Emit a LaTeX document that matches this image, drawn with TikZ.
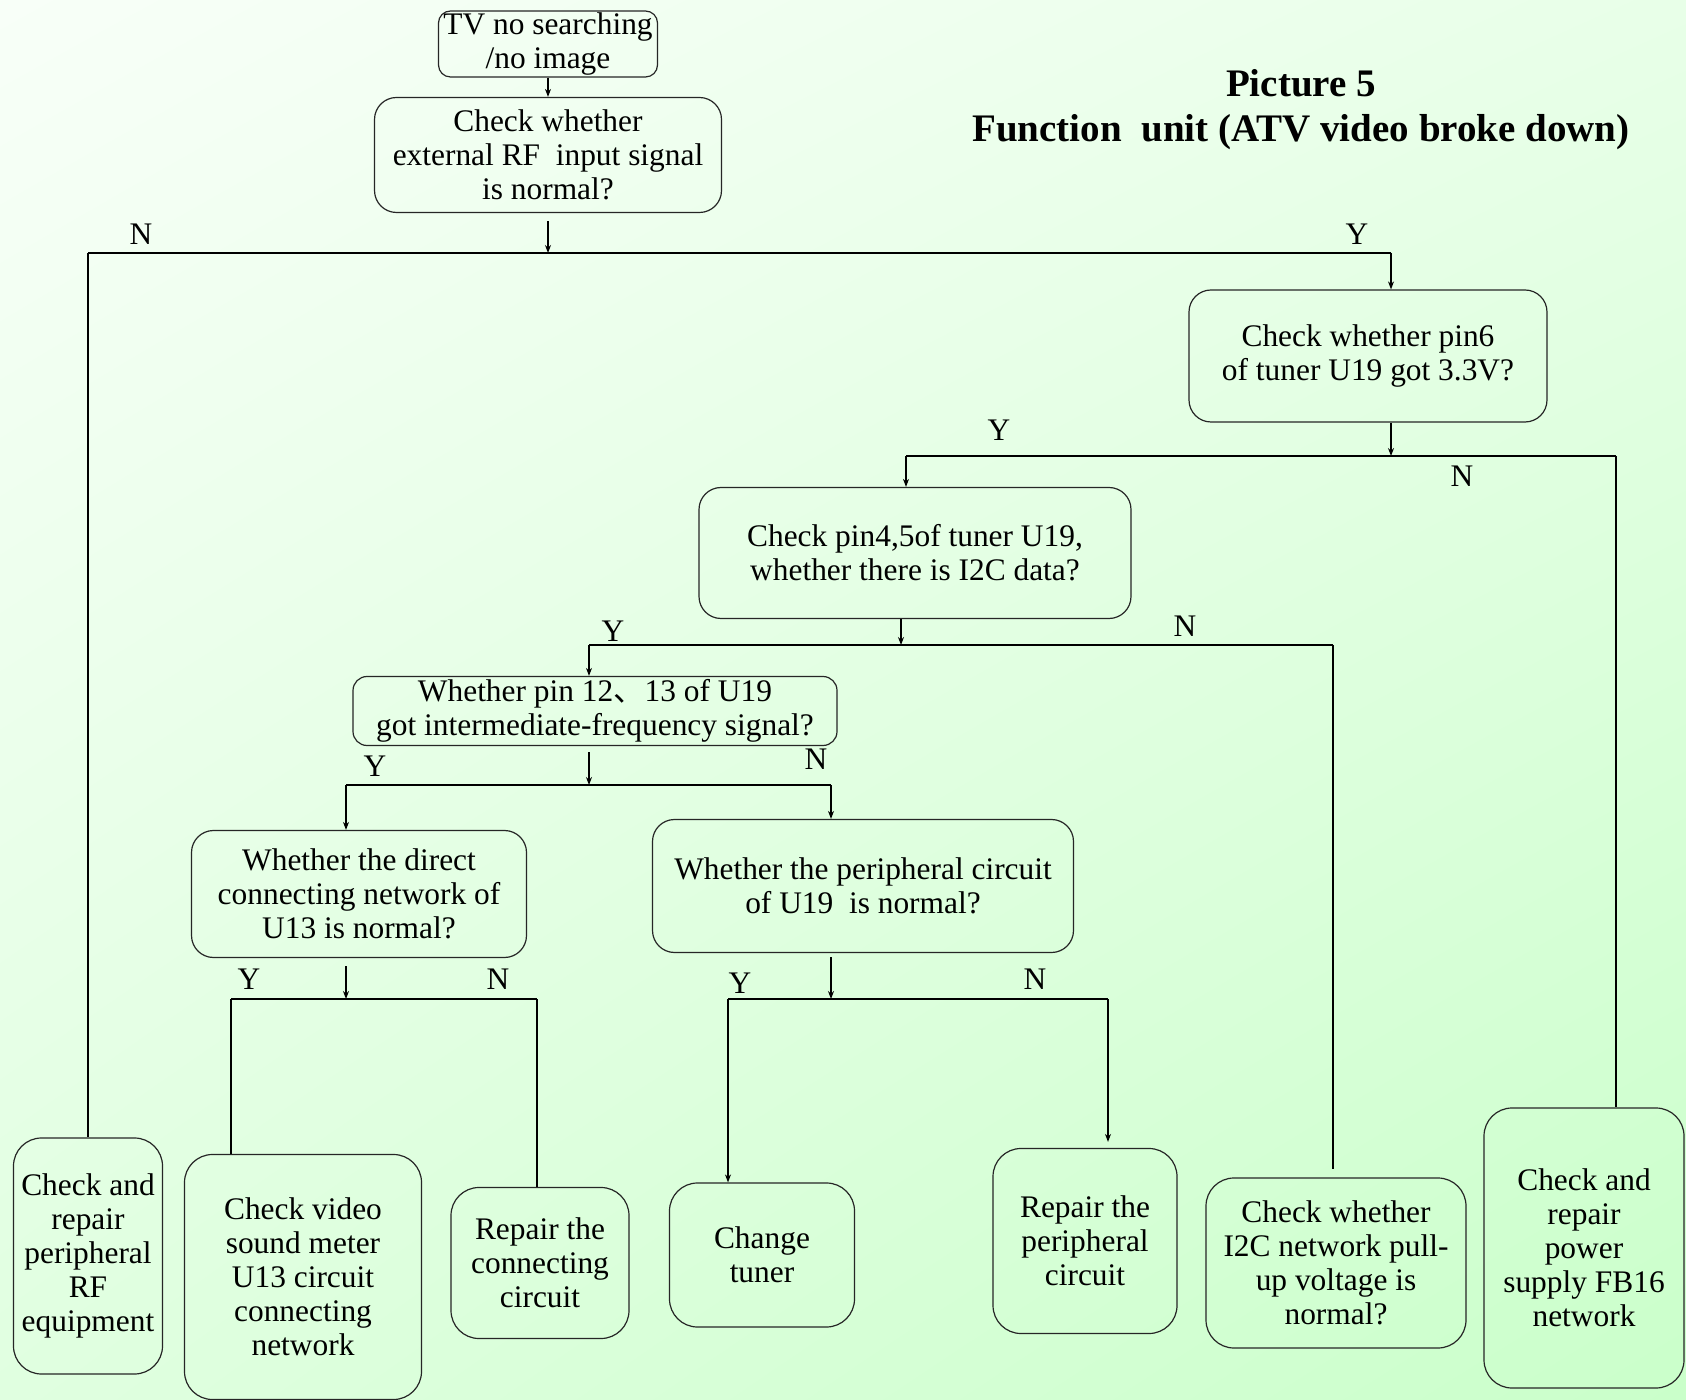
\documentclass[tikz,border=0pt]{standalone}
\usepackage{fontspec}
\setmainfont{Liberation Serif}
\newfontfamily\cjkfont{Noto Sans CJK SC}
\usepackage{xcolor}
\usepackage{tikz}
\usetikzlibrary{arrows.meta,positioning,shadings}

\definecolor{bgUL}{RGB}{248,255,248}
\definecolor{bgUR}{RGB}{232,255,232}
\definecolor{bgLL}{RGB}{224,255,224}
\definecolor{bgLR}{RGB}{202,255,202}

\begin{document}
\begin{tikzpicture}[
  x=0.5pt,y=-0.5pt,
  font=\fontsize{15.7}{17}\selectfont,
  box/.style={draw=black!85,line width=0.6pt,rounded corners=11pt,align=center,inner sep=2pt},
  endbox/.style={box,rounded corners=14pt},
  wire/.style={line width=0.6pt},
  bus/.style={line width=1.1pt},
  flow/.style={-{Stealth[length=4pt,width=3pt]},line width=0.6pt},
  yn/.style={inner sep=0pt},
  ttl/.style={font=\fontsize{19.5}{22.5}\selectfont\bfseries,align=center},
]
\shade[upper left=bgUL,upper right=bgUR,lower left=bgLL,lower right=bgLR] (0,0) rectangle (1686,1400);
\useasboundingbox (0,0) rectangle (1686,1400);

% title
\node[ttl] (title) at (1301,110) {Picture 5\\Function\ \ unit (ATV video broke down)};

% question boxes
\node[box,minimum width=109.5pt,minimum height=33pt,rounded corners=6pt,inner sep=0pt] (tv) at (548,44) {TV no searching\\/no image};
\node[box,minimum width=173.5pt,minimum height=57.5pt] (rf) at (548,155) {Check whether\\external RF\ \ input signal\\is normal?};
\node[box,minimum width=179pt,minimum height=66pt] (pin6) at (1368,356) {Check whether pin6\\of tuner U19 got 3.3V?};
\node[box,minimum width=216pt,minimum height=65.5pt] (i2c) at (915,553) {Check pin4,5of tuner U19,\\whether there is I2C data?};
\node[box,minimum width=242pt,minimum height=34.5pt,rounded corners=7pt,inner sep=0pt] (ifsig) at (595,711) {Whether pin 12{\cjkfont 、}13 of U19\\got intermediate-frequency signal?};
\node[box,minimum width=167.5pt,minimum height=63.5pt] (u13) at (359,894) {Whether the direct\\connecting network of\\U13 is normal?};
\node[box,minimum width=210.5pt,minimum height=66.5pt] (peri) at (863,886) {Whether the peripheral circuit\\of U19\ \ is normal?};

% end boxes
\node[endbox,minimum width=74.5pt,minimum height=118pt] (rfeq) at (88,1256) {Check and\\repair\\peripheral\\RF\\equipment};
\node[endbox,minimum width=118.5pt,minimum height=122.5pt] (video) at (303,1277) {Check video\\sound meter\\U13 circuit\\connecting\\network};
\node[endbox,minimum width=89pt,minimum height=75.5pt] (repconn) at (540,1263) {Repair the\\connecting\\circuit};
\node[endbox,minimum width=92.5pt,minimum height=72pt] (tuner) at (762,1255) {Change\\tuner};
\node[endbox,minimum width=92pt,minimum height=92.5pt] (repperi) at (1085,1241) {Repair the\\peripheral\\circuit};
\node[endbox,minimum width=130pt,minimum height=85pt] (pullup) at (1336,1263) {Check whether\\I2C network pull-\\up voltage is\\normal?};
\node[endbox,minimum width=100pt,minimum height=140pt] (power) at (1584,1248) {Check and\\repair\\power\\supply FB16\\network};

% RF input
\draw[flow] (tv) -- (rf);
\coordinate (b1) at (548,253);
\coordinate (b1l) at (88,253);
\coordinate (b1r) at (1391,253);
\draw[flow,shorten <=4pt] (rf) -- (b1);
\draw[bus] (b1l) -- (b1r);
\draw[wire] (b1l) -- (rfeq);
\draw[flow] (b1r) -- (b1r |- pin6.north);
\node[yn] (n1) at (141,234) {N};
\node[yn] (y1) at (1357,234) {Y};

% pin6 3.3V
\coordinate (b2) at (1391,456);
\coordinate (b2l) at (906,456);
\coordinate (b2r) at (1616,456);
\draw[flow] (b1r |- pin6.south) -- (b2);
\draw[bus] (b2l) -- (b2r);
\draw[bus] (b2r) -- (b2r |- power.north);
\draw[flow] (b2l) -- (b2l |- i2c.north);
\node[yn] (y2) at (999,430) {Y};
\node[yn] (n2) at (1462,476) {N};

% I2C data
\coordinate (b3) at (901,645);
\coordinate (b3l) at (589,645);
\coordinate (b3r) at (1333,645);
\draw[flow] (b3 |- i2c.south) -- (b3);
\draw[bus] (b3l) -- (b3r);
\draw[wire,shorten >=4pt] (b3r) -- (b3r |- pullup.north);
\draw[flow] (b3l) -- (b3l |- ifsig.north);
\node[yn] (y3) at (613,631) {Y};
\node[yn] (n3) at (1185,626) {N};

% IF signal
\coordinate (b4) at (589,785);
\coordinate (b4l) at (346,785);
\coordinate (b4r) at (831,785);
\draw[flow,shorten <=3pt] (b4 |- ifsig.south) -- (b4);
\draw[wire] (b4l) -- (b4r);
\draw[flow] (b4l) -- (b4l |- u13.north);
\draw[flow] (b4r) -- (b4r |- peri.north);
\node[yn] (y4) at (375,766) {Y};
\node[yn] (n4) at (816,759) {N};

% U13 network
\coordinate (b5) at (346,999);
\coordinate (b5l) at (231,999);
\coordinate (b5r) at (537,999);
\draw[flow,shorten <=4pt] (b5 |- u13.south) -- (b5);
\draw[bus] (b5l) -- (b5r);
\draw[wire] (b5l) -- (b5l |- video.north);
\draw[bus] (b5r) -- (b5r |- repconn.north);
\node[yn] (y5) at (249,979) {Y};
\node[yn] (n5) at (498,979) {N};

% U19 peripheral
\coordinate (b6) at (831,999);
\coordinate (b6l) at (728,999);
\coordinate (b6r) at (1108,999);
\draw[flow,shorten <=2pt] (b6 |- peri.south) -- (b6);
\draw[wire] (b6l) -- (b6r);
\draw[flow] (b6l) -- (b6l |- tuner.north);
\draw[flow,shorten >=3pt] (b6r) -- (b6r |- repperi.north);
\node[yn] (y6) at (740,983) {Y};
\node[yn] (n6) at (1035,979) {N};
\end{tikzpicture}
\end{document}
